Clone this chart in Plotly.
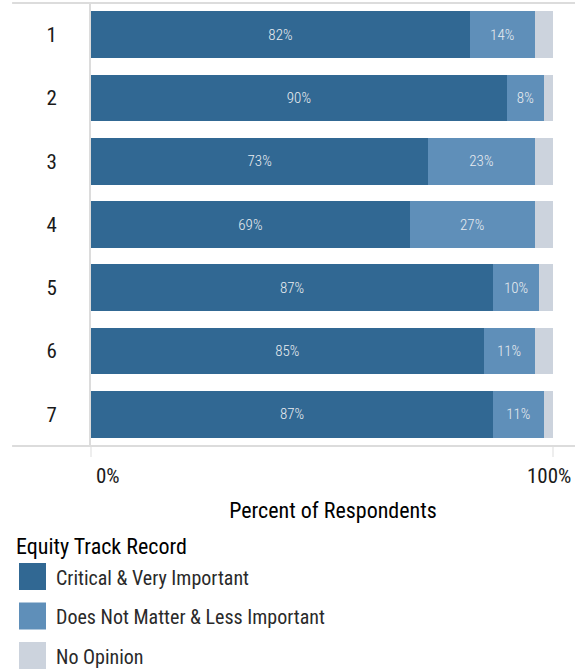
import plotly.graph_objects as go

# Survey results: share of respondents per question (percent)
questions = ["1", "2", "3", "4", "5", "6", "7"]
critical = [82, 90, 73, 69, 87, 85, 87]
less_important = [14, 8, 23, 27, 10, 11, 11]
no_opinion = [4, 2, 4, 4, 3, 4, 2]

series_names = ["Critical & Very Important", "Does Not Matter & Less Important", "No Opinion"]
series_values = [critical, less_important, no_opinion]
series_colors = ["#316893", "#5f8fb9", "#ccd3dd"]
show_labels = [True, True, False]

x_tick_values = [0, 100]
x_tick_labels = ["0%", "100%"]

FONT = "Roboto Condensed, Liberation Sans Narrow, DejaVu Sans Condensed, Roboto, sans-serif"
GRID = "#dcdcdc"

fig = go.Figure()
for name, vals, color, lab in zip(series_names, series_values, series_colors, show_labels):
    fig.add_trace(go.Bar(
        y=questions, x=vals, name=name, orientation="h",
        marker=dict(color=color, line=dict(width=0)),
        text=[f"{v}%" for v in vals] if lab else None,
        textposition="inside" if lab else "none",
        insidetextanchor="middle",
        textangle=0,
        insidetextfont=dict(family=FONT, size=15, color="#e8ecf0", weight=300),
        showlegend=False,
        hoverinfo="skip",
    ))

shapes = [
    # frame lines above and below the bars
    dict(type="line", xref="paper", yref="paper", x0=-0.163, x1=1, y0=1, y1=1,
         line=dict(color=GRID, width=2)),
    dict(type="line", xref="paper", yref="paper", x0=-0.163, x1=1, y0=0, y1=0,
         line=dict(color=GRID, width=2)),
]
annotations = []

# x-axis value labels
annotations.append(dict(x=x_tick_values[0], y=0, xref="x", yref="paper", yshift=-30,
                        text=x_tick_labels[0], showarrow=False, xanchor="left", yanchor="middle",
                        xshift=3, font=dict(family=FONT, size=21, color="#1a1a1a")))
annotations.append(dict(x=x_tick_values[1], y=0, xref="x", yref="paper", yshift=-30,
                        text=x_tick_labels[1], showarrow=False, xanchor="right", yanchor="middle",
                        xshift=20, font=dict(family=FONT, size=21, color="#1a1a1a")))

# legend drawn as swatches + labels beneath the chart
annotations.append(dict(x=14, y=546, xref="paper", yref="paper", text="Equity Track Record",
                        showarrow=False, xanchor="left", yanchor="middle",
                        font=dict(family=FONT, size=22, color="#000000")))
for i, (name, color) in enumerate(zip(series_names, series_colors)):
    top = 563 + 39.5 * i
    shapes.append(dict(type="rect", xref="paper", yref="paper",
                       x0=19, x1=46, y0=top, y1=top + 27,
                       fillcolor=color, line=dict(width=0)))
    annotations.append(dict(x=54, y=top + 14.5, xref="paper", yref="paper", text=name,
                            showarrow=False, xanchor="left", yanchor="middle",
                            font=dict(family=FONT, size=20, color="#2a2a2a")))

# convert legend pixel positions to paper coordinates
W, H = 575, 670
ML, MR, MT, MB = 91, 0, 3, 224
pw, ph = W - ML - MR, H - MT - MB
for s in shapes[2:]:
    s["x0"] = (s["x0"] - ML) / pw
    s["x1"] = (s["x1"] - ML) / pw
    y0, y1 = s["y0"], s["y1"]
    s["y0"] = (H - MB - y1) / ph
    s["y1"] = (H - MB - y0) / ph
for a in annotations[2:]:
    a["x"] = (a["x"] - ML) / pw
    a["y"] = (H - MB - a["y"]) / ph

fig.update_layout(
    barmode="stack",
    bargap=0.26,
    width=W, height=H,
    margin=dict(l=ML, r=MR, t=MT, b=MB, pad=0),
    paper_bgcolor="white", plot_bgcolor="white",
    font=dict(family=FONT, color="#1a1a1a"),
    shapes=shapes,
    annotations=annotations,
    uniformtext=dict(minsize=8, mode="show"),
    xaxis=dict(
        range=[0, 104.76], tickvals=x_tick_values, showticklabels=False,
        ticks="outside", ticklen=10, tickcolor="#eeeeee", tickwidth=2,
        showgrid=False, zeroline=False, showline=False, fixedrange=True,
        title=dict(text="Percent of Respondents", standoff=46,
                   font=dict(family=FONT, size=22, color="#000000")),
    ),
    yaxis=dict(
        autorange="reversed", type="category",
        showgrid=False, zeroline=False,
        showline=True, linecolor=GRID, linewidth=2,
        ticks="", ticklabelstandoff=28,
        tickfont=dict(family=FONT, size=21, color="#1a1a1a"),
    ),
)

fig.write_html("out.html")
